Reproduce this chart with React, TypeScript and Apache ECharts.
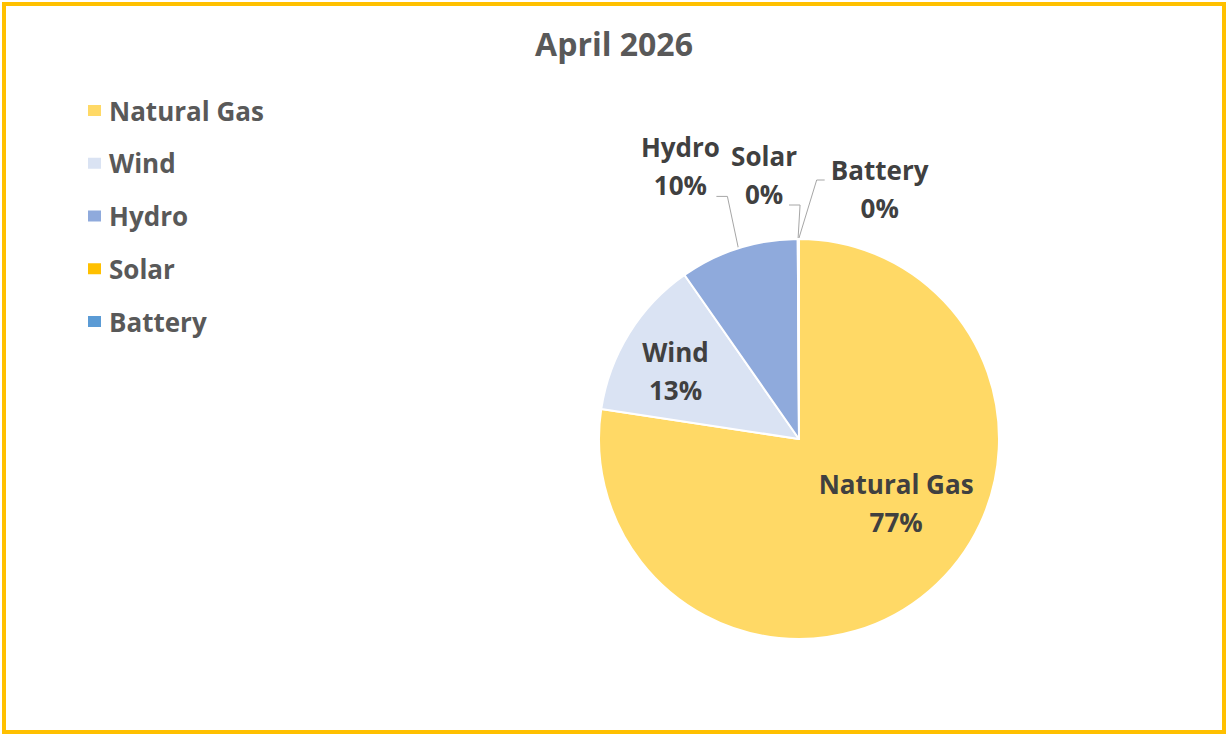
import React, { useEffect, useRef } from "react";
import * as echarts from "echarts";

const TITLE = "April 2026";
const categories = ["Natural Gas", "Wind", "Hydro", "Solar", "Battery"];
const shares = [77.4, 12.9, 9.6, 0.05, 0.05];
const colors = ["#FFD966", "#DAE3F3", "#8FAADC", "#FFC000", "#5B9BD5"];
const insideLabels = ["Natural Gas", "Wind"];

// label placement tweaks (relative offsets, not data)
const insideShift: Record<string, number[]> = { "Natural Gas": [30, -14], Wind: [-36, -14] };
// [labelCenterDx, labelCenterDy, bendDx, bendDy, endDx, endDy] relative to the sector's edge anchor
const outsideShift: Record<string, number[]> = {
  Hydro: [-58, -82, -11, -52, -22, -52],
  Solar: [-34, -64, 2, -34, -9, -34],
  Battery: [81, -50, 18, -59, 26, -59],
};

const FONT = "'Open Sans', Lato, sans-serif";

export default function App() {
  const ref = useRef<HTMLDivElement>(null);
  useEffect(() => {
    document.body.style.margin = "0";
    const chart = echarts.init(ref.current!, undefined, { renderer: "svg" });
    const data = categories.map((name, i) => ({
      name,
      value: shares[i],
      itemStyle: { color: colors[i] },
      label: { position: insideLabels.includes(name) ? "inside" : "outside" },
      labelLine: { show: !insideLabels.includes(name) },
    }));
    chart.setOption({
      animation: false,
      backgroundColor: "#ffffff",
      title: {
        text: TITLE,
        left: "center",
        top: 22,
        textStyle: { fontFamily: FONT, fontWeight: "bold", fontSize: 32, color: "#595959" },
      },
      legend: {
        orient: "vertical",
        left: 81,
        top: 90,
        itemWidth: 15,
        itemHeight: 13,
        itemGap: 21.75,
        icon: "rect",
        data: categories,
        textStyle: {
          fontFamily: FONT,
          fontWeight: "bold",
          fontSize: 26,
          color: "#595959",
          lineHeight: 31,
          padding: [0, 0, 0, 2],
        },
      },
      graphic: [
        {
          type: "rect",
          shape: { x: 4, y: 4, width: 1220, height: 728 },
          style: { fill: "none", stroke: "#FFC000", lineWidth: 4 },
          silent: true,
        },
      ],
      series: [
        {
          type: "pie",
          center: [799, 439],
          radius: 200,
          startAngle: 90,
          clockwise: true,
          avoidLabelOverlap: false,
          itemStyle: { borderColor: "#ffffff", borderWidth: 2 },
          label: {
            show: true,
            fontFamily: FONT,
            fontWeight: "bold",
            fontSize: 26,
            lineHeight: 38,
            color: "#404040",
            formatter: (p: any) => `${p.name}\n${Math.round(p.percent)}%`,
          },
          labelLine: { length: 30, length2: 12, lineStyle: { color: "#A6A6A6", width: 1 } },
          labelLayout: (params: any) => {
            const name = categories[params.dataIndex];
            const r = params.labelRect;
            const cx = r.x + r.width / 2;
            const cy = r.y + r.height / 2;
            if (insideShift[name]) {
              const s = insideShift[name];
              return { x: cx + s[0], y: cy + s[1], align: "center", verticalAlign: "middle", hideOverlap: false };
            }
            const s = outsideShift[name];
            const pts = params.labelLinePoints;
            if (!s || !pts) return { hideOverlap: false };
            const a = pts[0];
            return {
              x: a[0] + s[0],
              y: a[1] + s[1],
              align: "center",
              verticalAlign: "middle",
              hideOverlap: false,
              labelLinePoints: [
                [a[0], a[1]],
                [a[0] + s[2], a[1] + s[3]],
                [a[0] + s[4], a[1] + s[5]],
              ],
            };
          },
          data,
        },
      ],
    });
    return () => chart.dispose();
  }, []);
  return <div ref={ref} style={{ width: 1228, height: 736 }} />;
}
